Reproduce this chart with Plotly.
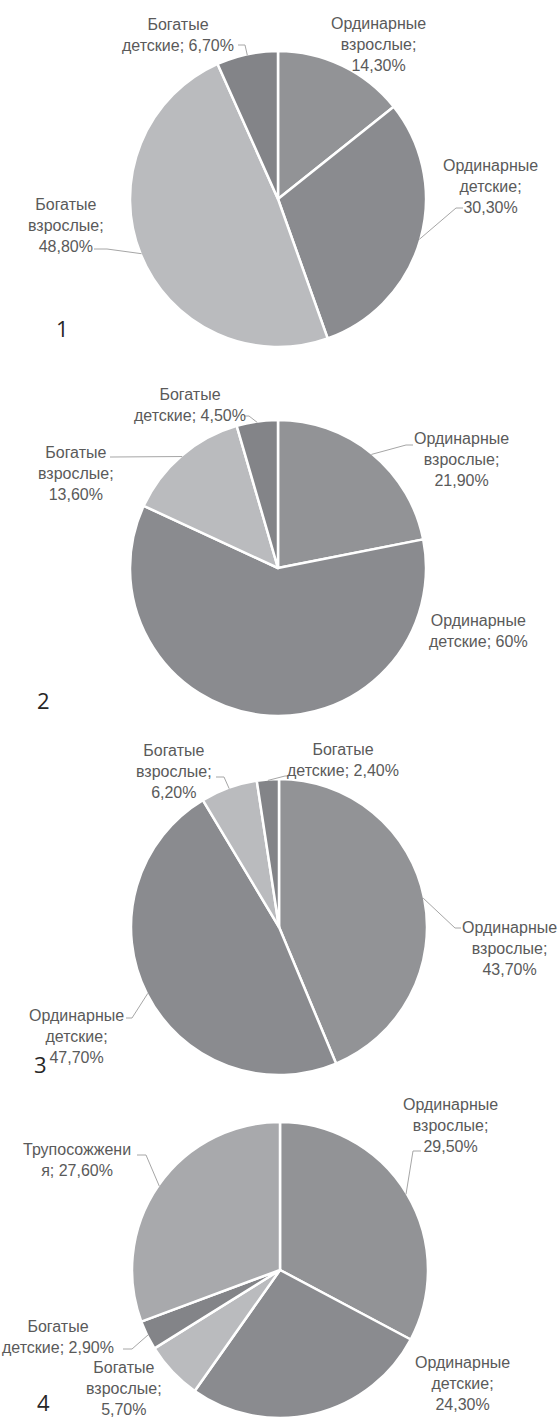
import plotly.graph_objects as go
import math

# ---------------- data ----------------
cat_ord_adult = "Ординарные взрослые"
cat_ord_child = "Ординарные детские"
cat_rich_adult = "Богатые взрослые"
cat_rich_child = "Богатые детские"
cat_crem = "Трупосожжения"

pie1_labels = [cat_ord_adult, cat_ord_child, cat_rich_adult, cat_rich_child]
pie1_values = [14.3, 30.3, 48.8, 6.7]

pie2_labels = [cat_ord_adult, cat_ord_child, cat_rich_adult, cat_rich_child]
pie2_values = [21.9, 60.0, 13.6, 4.5]

pie3_labels = [cat_ord_adult, cat_ord_child, cat_rich_adult, cat_rich_child]
pie3_values = [43.7, 47.7, 6.2, 2.4]

pie4_labels = [cat_ord_adult, cat_ord_child, cat_rich_adult, cat_rich_child, cat_crem]
pie4_values = [29.5, 24.3, 5.7, 2.9, 27.6]

panel_numbers = ["1", "2", "3", "4"]

# ---------------- styling ----------------
W, H = 558, 1418
colors = {
    cat_ord_adult: "#929396",
    cat_ord_child: "#8a8b8f",
    cat_rich_adult: "#babbbe",
    cat_rich_child: "#838488",
    cat_crem: "#a8a9ac",
}
LABEL_FONT = dict(family="Liberation Sans", size=16, color="#5a5a5a")
LEADER_COLOR = "#a6a6a6"


def fmt_value(v):
    if abs(v - round(v)) < 1e-9:
        return f"{int(round(v))}%"
    return f"{v:.2f}".replace(".", ",") + "%"


def label_text(name, v, mode):
    w = name.split(" ")
    val = fmt_value(v)
    if mode == "a":
        return f"{w[0]}<br>{w[1]};<br>{val}"
    if mode == "b":
        return f"{w[0]}<br>{w[1]}; {val}"
    # mode c: word broken across lines
    return f"{name[:12]}<br>{name[12:]}; {val}"


# layout per pie: centre/radius (px), label placements (px), leader elbows (px)
pies = [
    dict(labels=pie1_labels, values=pie1_values, cx=278, cy=199, r=148,
         num=(62, 328),
         lab={
             cat_ord_adult: ("a", 378, 45, None),
             cat_ord_child: ("a", 490, 186, ((456, 208), 463)),
             cat_rich_adult: ("a", 66, 226, ((107, 249), 94)),
             cat_rich_child: ("b", 178, 35, ((245, 45), 238)),
         }),
    dict(labels=pie2_labels, values=pie2_values, cx=278, cy=568, r=148,
         num=(43, 700),
         lab={
             cat_ord_adult: ("a", 461, 460, ((406, 445), 413)),
             cat_ord_child: ("b", 478, 631, None),
             cat_rich_adult: ("a", 76, 473, ((112, 457), 110)),
             cat_rich_child: ("b", 190, 405, ((249, 416), 244)),
         }),
    dict(labels=pie3_labels, values=pie3_values, cx=279, cy=927, r=148,
         num=(40, 1064),
         lab={
             cat_ord_adult: ("a", 509, 949, ((455, 928), 461)),
             cat_ord_child: ("a", 76, 1036, ((132, 1018), 126)),
             cat_rich_adult: ("a", 174, 771, ((224, 777), 216)),
             cat_rich_child: ("b", 343, 760, ((285, 776), 289)),
         }),
    dict(labels=pie4_labels, values=pie4_values, cx=280, cy=1270, r=148,
         num=(43, 1402),
         lab={
             cat_ord_adult: ("a", 450, 1125, ((413, 1151), 421)),
             cat_ord_child: ("a", 462, 1383, None),
             cat_rich_adult: ("a", 124, 1388, None),
             cat_rich_child: ("b", 58, 1337, ((132, 1349), 123)),
             cat_crem: ("c", 77, 1160, ((146, 1155), 137)),
         }),
]


def px(x):
    return min(1.0, max(0.0, x / W))


def py(y):
    return min(1.0, max(0.0, 1 - y / H))


fig = go.Figure()
annotations = []
shapes = []

for i, p in enumerate(pies):
    cx, cy, r = p["cx"], p["cy"], p["r"]
    fig.add_trace(go.Pie(
        labels=p["labels"], values=p["values"],
        sort=False, direction="clockwise", rotation=0,
        marker=dict(colors=[colors[l] for l in p["labels"]],
                    line=dict(color="white", width=2.5)),
        textinfo="none", hoverinfo="label+value",
        domain=dict(x=[px(cx - r), px(cx + r)], y=[py(cy + r), py(cy - r)]),
        showlegend=False,
    ))
    total = sum(p["values"])
    cum = 0.0
    for name, v in zip(p["labels"], p["values"]):
        mode, lx, ly, leader = p["lab"][name]
        annotations.append(dict(
            text=label_text(name, v, mode), x=lx / W, y=1 - ly / H,
            xref="paper", yref="paper", xanchor="center", yanchor="middle",
            align="center", showarrow=False, font=LABEL_FONT,
        ))
        mid = math.radians((cum + v / 2) / total * 360)
        cum += v
        if leader is not None:
            (ex, ey), endx = leader
            sx = cx + (r - 1) * math.sin(mid)
            sy = cy - (r - 1) * math.cos(mid)
            path = (f"M {sx / W} {1 - sy / H} L {ex / W} {1 - ey / H} L {endx / W} {1 - ey / H}")
            shapes.append(dict(type="path", path=path, xref="paper", yref="paper",
                               line=dict(color=LEADER_COLOR, width=1)))
    nx, ny = p["num"]
    annotations.append(dict(
        text=panel_numbers[i], x=nx / W, y=1 - ny / H, xref="paper", yref="paper",
        xanchor="center", yanchor="middle", showarrow=False,
        font=dict(family="Open Sans", size=22, color="#262626"),
    ))

fig.update_layout(
    width=W, height=H,
    margin=dict(l=0, r=0, t=0, b=0),
    paper_bgcolor="white", plot_bgcolor="white",
    annotations=annotations, shapes=shapes,
)

fig.write_html(
    "out.html",
    config={"displayModeBar": False},
    post_script="document.body.style.margin='0';document.body.style.overflow='hidden';",
)
